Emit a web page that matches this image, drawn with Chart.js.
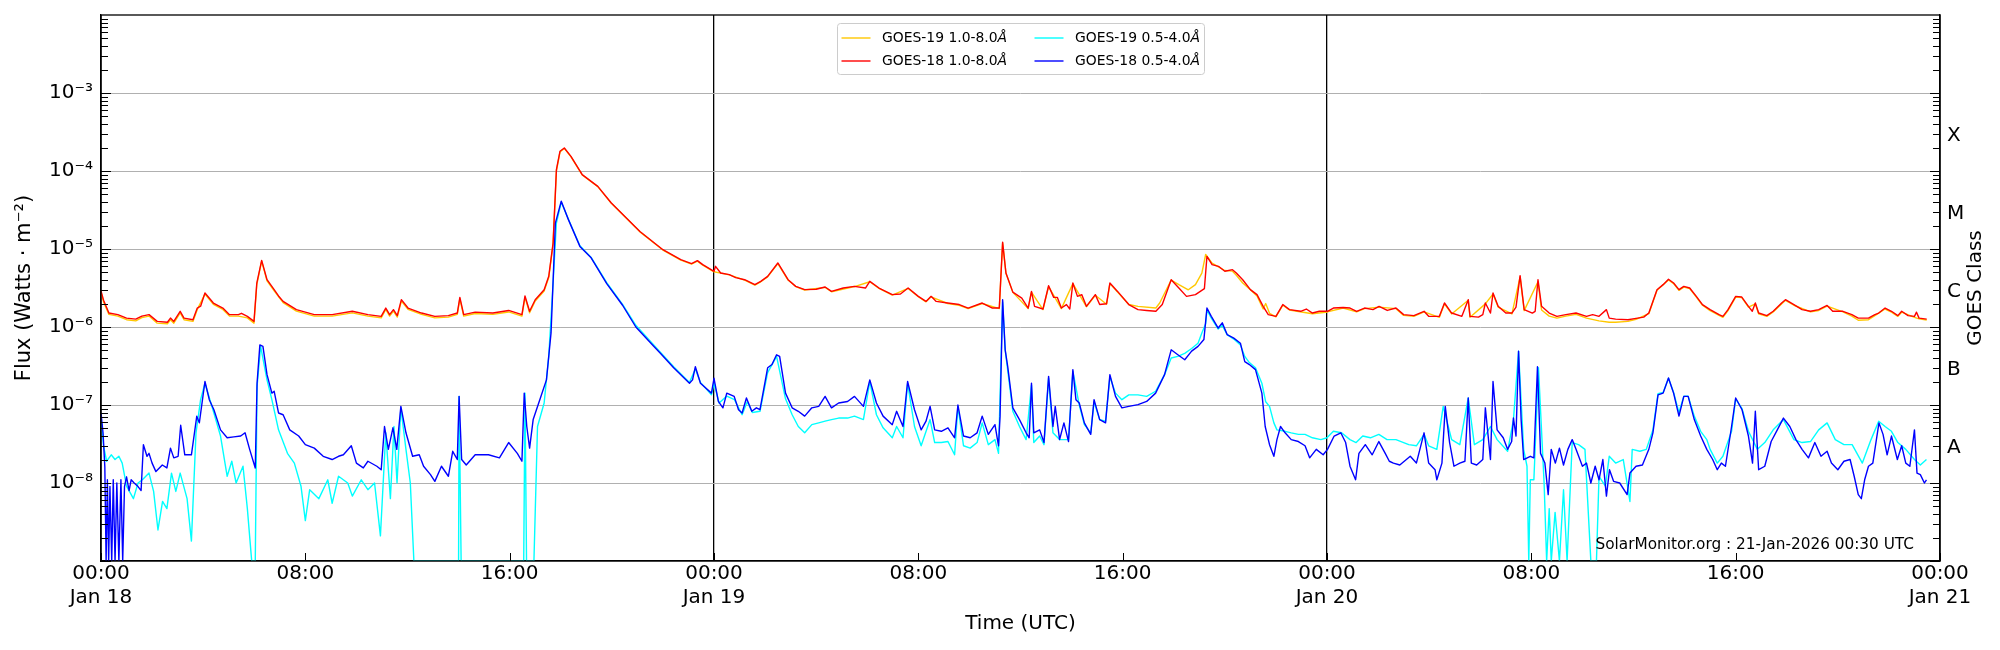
<!DOCTYPE html>
<html lang="en">
<head>
    <meta charset="UTF-8">
    <title>GOES X-ray Flux</title>
    <style>
        body { margin: 0; background: #fff; font-family: "DejaVu Sans", sans-serif; }
        #wrap { width: 2000px; height: 650px; position: relative; }
    </style>
    <script src="https://cdn.jsdelivr.net/npm/chart.js"></script>
</head>
<body>
    <div id="wrap"><canvas id="goesChart"></canvas></div>

    <script>
        // time in hours since Jan 18 00:00 UTC, flux in W/m^2
        const goes19Long = [
            [0.00, 2.8e-6], [0.10, 2.1e-6], [0.31, 1.45e-6], [0.66, 1.38e-6], [1.00, 1.24e-6], [1.36, 1.2e-6],
            [1.60, 1.32e-6], [1.88, 1.38e-6], [2.20, 1.12e-6], [2.60, 1.1e-6], [2.72, 1.24e-6], [2.85, 1.12e-6],
            [3.10, 1.52e-6], [3.25, 1.24e-6], [3.60, 1.18e-6], [3.77, 1.68e-6], [4.07, 2.65e-6], [4.40, 1.95e-6],
            [4.77, 1.68e-6], [5.03, 1.38e-6], [5.38, 1.38e-6], [5.73, 1.31e-6], [5.99, 1.12e-6], [6.10, 3.5e-6],
            [6.29, 7.0e-6], [6.50, 3.9e-6], [6.78, 2.9e-6], [7.13, 2.05e-6], [7.65, 1.6e-6], [8.35, 1.38e-6],
            [9.05, 1.38e-6], [9.84, 1.52e-6], [10.45, 1.38e-6], [10.97, 1.31e-6], [11.15, 1.68e-6], [11.30, 1.38e-6],
            [11.45, 1.6e-6], [11.60, 1.34e-6], [11.76, 2.15e-6], [12.02, 1.68e-6], [12.55, 1.45e-6], [13.07, 1.31e-6],
            [13.60, 1.34e-6], [13.95, 1.45e-6], [14.05, 2.3e-6], [14.20, 1.38e-6], [14.65, 1.49e-6], [15.34, 1.45e-6],
            [15.96, 1.56e-6], [16.48, 1.38e-6], [16.60, 2.4e-6], [16.78, 1.52e-6], [17.00, 2.15e-6], [17.35, 2.9e-6],
            [17.53, 4.3e-6], [17.70, 1.15e-5], [17.83, 1.0e-4], [17.97, 1.75e-4], [18.14, 1.95e-4], [18.40, 1.52e-4],
            [18.84, 8.9e-5], [19.45, 6.3e-5], [19.98, 3.85e-5], [21.10, 1.66e-5], [22.00, 9.7e-6], [22.70, 7.2e-6],
            [23.12, 6.4e-6], [23.35, 7.0e-6], [23.56, 6.2e-6], [24.00, 5.1e-6], [24.26, 4.9e-6], [24.60, 4.65e-6],
            [25.20, 4.0e-6], [25.60, 3.45e-6], [25.83, 3.8e-6], [26.10, 4.4e-6], [26.50, 6.5e-6], [26.90, 4.0e-6],
            [27.20, 3.3e-6], [27.55, 2.98e-6], [28.35, 3.22e-6], [28.60, 2.83e-6], [29.50, 3.3e-6], [30.10, 3.8e-6],
            [30.46, 3.12e-6], [30.98, 2.57e-6], [31.60, 3.12e-6], [32.00, 2.44e-6], [32.30, 2.1e-6], [32.50, 2.44e-6],
            [33.15, 2.0e-6], [33.60, 1.9e-6], [33.95, 1.72e-6], [34.50, 2.0e-6], [35.17, 1.72e-6], [35.30, 1.2e-5],
            [35.43, 4.9e-6], [35.70, 2.78e-6], [36.30, 1.72e-6], [36.43, 2.8e-6], [36.88, 1.67e-6], [37.10, 3.3e-6],
            [37.60, 1.72e-6], [38.05, 3.6e-6], [38.58, 1.82e-6], [38.93, 2.55e-6], [39.37, 1.96e-6], [39.50, 3.6e-6],
            [39.80, 2.8e-6], [40.24, 1.94e-6], [40.60, 1.84e-6], [41.30, 1.75e-6], [41.45, 2.03e-6], [41.90, 4.0e-6],
            [42.20, 3.5e-6], [42.57, 3.0e-6], [42.85, 3.5e-6], [43.10, 4.9e-6], [43.25, 8.5e-6], [43.50, 6.6e-6],
            [43.75, 5.9e-6], [44.00, 5.3e-6], [44.30, 5.2e-6], [44.45, 4.6e-6], [44.70, 3.66e-6], [45.00, 3.0e-6],
            [45.26, 2.5e-6], [45.50, 1.7e-6], [45.60, 2.0e-6], [45.75, 1.5e-6], [46.00, 1.35e-6], [46.27, 1.9e-6],
            [46.53, 1.65e-6], [47.00, 1.56e-6], [47.43, 1.48e-6], [48.02, 1.56e-6], [48.63, 1.75e-6], [49.16, 1.56e-6],
            [49.47, 1.72e-6], [50.04, 1.8e-6], [50.70, 1.72e-6], [51.00, 1.41e-6], [51.40, 1.37e-6], [51.80, 1.56e-6],
            [52.40, 1.33e-6], [52.60, 1.98e-6], [52.88, 1.47e-6], [53.53, 2.2e-6], [53.60, 1.33e-6], [54.20, 1.98e-6],
            [54.50, 2.65e-6], [54.70, 1.8e-6], [55.24, 1.47e-6], [55.56, 4.4e-6], [55.72, 1.62e-6], [56.26, 3.8e-6],
            [56.40, 1.65e-6], [56.70, 1.38e-6], [57.00, 1.3e-6], [57.35, 1.38e-6], [57.75, 1.45e-6], [58.16, 1.3e-6],
            [58.65, 1.2e-6], [59.05, 1.15e-6], [59.30, 1.15e-6], [59.78, 1.18e-6], [60.10, 1.25e-6], [60.60, 1.48e-6],
            [60.92, 2.95e-6], [61.37, 4.0e-6], [61.57, 3.6e-6], [61.78, 2.95e-6], [61.97, 3.25e-6], [62.20, 3.1e-6],
            [62.46, 2.42e-6], [62.70, 1.9e-6], [63.00, 1.62e-6], [63.50, 1.33e-6], [63.70, 1.62e-6], [64.00, 2.42e-6],
            [64.24, 2.38e-6], [64.50, 1.8e-6], [64.77, 1.98e-6], [64.90, 1.47e-6], [65.22, 1.37e-6], [65.47, 1.56e-6],
            [65.95, 2.2e-6], [66.28, 1.9e-6], [66.93, 1.56e-6], [67.25, 1.63e-6], [67.58, 1.85e-6], [68.20, 1.56e-6],
            [68.55, 1.38e-6], [68.80, 1.22e-6], [69.20, 1.24e-6], [69.45, 1.4e-6], [69.85, 1.7e-6], [70.10, 1.55e-6],
            [70.35, 1.37e-6], [70.50, 1.55e-6], [71.00, 1.33e-6], [71.18, 1.27e-6], [71.48, 1.23e-6]
        ];

        const goes18Long = [
            [0.00, 2.9e-6], [0.10, 2.2e-6], [0.31, 1.51e-6], [0.66, 1.44e-6], [1.00, 1.30e-6], [1.36, 1.26e-6],
            [1.60, 1.38e-6], [1.88, 1.44e-6], [2.20, 1.18e-6], [2.60, 1.15e-6], [2.72, 1.30e-6], [2.85, 1.18e-6],
            [3.10, 1.59e-6], [3.25, 1.30e-6], [3.60, 1.24e-6], [3.77, 1.75e-6], [3.90, 1.85e-6], [4.07, 2.73e-6],
            [4.40, 2.03e-6], [4.77, 1.75e-6], [5.03, 1.44e-6], [5.38, 1.44e-6], [5.50, 1.5e-6], [5.73, 1.37e-6],
            [5.99, 1.18e-6], [6.10, 3.66e-6], [6.29, 7.15e-6], [6.50, 4.04e-6], [6.78, 3.01e-6], [6.95, 2.5e-6],
            [7.13, 2.13e-6], [7.65, 1.67e-6], [8.35, 1.44e-6], [9.05, 1.44e-6], [9.84, 1.59e-6], [10.45, 1.44e-6],
            [10.97, 1.37e-6], [11.15, 1.75e-6], [11.30, 1.44e-6], [11.45, 1.67e-6], [11.60, 1.4e-6], [11.76, 2.24e-6],
            [12.02, 1.75e-6], [12.55, 1.51e-6], [13.07, 1.37e-6], [13.60, 1.40e-6], [13.95, 1.51e-6], [14.05, 2.4e-6],
            [14.20, 1.44e-6], [14.65, 1.55e-6], [15.34, 1.51e-6], [15.96, 1.63e-6], [16.48, 1.44e-6], [16.60, 2.5e-6],
            [16.78, 1.59e-6], [17.00, 2.24e-6], [17.35, 3.01e-6], [17.53, 4.46e-6], [17.70, 1.19e-5], [17.83, 1.04e-4],
            [17.97, 1.79e-4], [18.14, 1.97e-4], [18.40, 1.54e-4], [18.84, 8.97e-5], [19.45, 6.36e-5], [19.98, 3.89e-5],
            [21.10, 1.68e-5], [22.00, 9.8e-6], [22.70, 7.3e-6], [23.12, 6.5e-6], [23.35, 7.1e-6], [23.56, 6.3e-6],
            [24.00, 5.18e-6], [24.06, 6.0e-6], [24.26, 4.93e-6], [24.60, 4.69e-6], [24.85, 4.3e-6], [25.20, 4.04e-6],
            [25.60, 3.49e-6], [25.83, 3.85e-6], [26.10, 4.46e-6], [26.50, 6.62e-6], [26.90, 4.04e-6], [27.20, 3.32e-6],
            [27.55, 3.01e-6], [28.00, 3.05e-6], [28.35, 3.26e-6], [28.60, 2.86e-6], [29.06, 3.16e-6], [29.50, 3.32e-6],
            [29.93, 3.16e-6], [30.10, 3.85e-6], [30.46, 3.16e-6], [30.98, 2.6e-6], [31.30, 2.65e-6], [31.60, 3.16e-6],
            [32.00, 2.47e-6], [32.30, 2.13e-6], [32.50, 2.47e-6], [32.70, 2.13e-6], [33.15, 2.03e-6], [33.60, 1.94e-6],
            [33.95, 1.75e-6], [34.50, 2.03e-6], [34.90, 1.75e-6], [35.17, 1.75e-6], [35.30, 1.22e-5], [35.43, 4.93e-6],
            [35.70, 2.8e-6], [36.05, 2.35e-6], [36.30, 1.75e-6], [36.43, 2.86e-6], [36.55, 1.84e-6], [36.88, 1.7e-6],
            [37.10, 3.38e-6], [37.30, 2.4e-6], [37.44, 2.4e-6], [37.60, 1.75e-6], [37.80, 1.94e-6], [37.93, 1.7e-6],
            [38.05, 3.66e-6], [38.23, 2.47e-6], [38.40, 2.6e-6], [38.58, 1.84e-6], [38.93, 2.6e-6], [39.10, 1.94e-6],
            [39.37, 1.99e-6], [39.50, 3.66e-6], [39.80, 2.86e-6], [40.24, 1.94e-6], [40.60, 1.67e-6], [40.94, 1.63e-6],
            [41.30, 1.59e-6], [41.55, 1.94e-6], [41.90, 4.04e-6], [42.20, 3.16e-6], [42.50, 2.47e-6], [42.85, 2.6e-6],
            [43.20, 3.1e-6], [43.30, 8.05e-6], [43.50, 6.3e-6], [43.75, 6.0e-6], [44.00, 5.18e-6], [44.30, 5.43e-6],
            [44.45, 4.93e-6], [44.70, 4.04e-6], [45.00, 3.01e-6], [45.26, 2.6e-6], [45.50, 1.84e-6], [45.70, 1.44e-6],
            [46.00, 1.37e-6], [46.27, 1.94e-6], [46.53, 1.67e-6], [46.97, 1.59e-6], [47.19, 1.7e-6], [47.43, 1.51e-6],
            [47.70, 1.59e-6], [48.02, 1.59e-6], [48.25, 1.75e-6], [48.63, 1.78e-6], [48.90, 1.75e-6], [49.16, 1.59e-6],
            [49.47, 1.75e-6], [49.80, 1.67e-6], [50.04, 1.84e-6], [50.36, 1.63e-6], [50.70, 1.75e-6], [51.00, 1.44e-6],
            [51.40, 1.40e-6], [51.80, 1.59e-6], [51.98, 1.37e-6], [52.40, 1.37e-6], [52.60, 2.03e-6], [52.88, 1.51e-6],
            [53.28, 1.37e-6], [53.53, 2.24e-6], [53.60, 1.37e-6], [53.93, 1.34e-6], [54.10, 1.44e-6], [54.20, 2.03e-6],
            [54.40, 1.51e-6], [54.50, 2.73e-6], [54.70, 1.84e-6], [55.00, 1.51e-6], [55.24, 1.51e-6], [55.40, 1.8e-6],
            [55.56, 4.55e-6], [55.72, 1.67e-6], [56.04, 1.51e-6], [56.15, 1.59e-6], [56.26, 4.04e-6], [56.40, 1.84e-6],
            [56.70, 1.51e-6], [57.00, 1.37e-6], [57.35, 1.44e-6], [57.75, 1.51e-6], [58.16, 1.37e-6], [58.40, 1.44e-6],
            [58.65, 1.37e-6], [58.94, 1.67e-6], [59.05, 1.30e-6], [59.30, 1.26e-6], [59.78, 1.24e-6], [60.10, 1.29e-6],
            [60.40, 1.34e-6], [60.60, 1.51e-6], [60.92, 3.01e-6], [61.16, 3.49e-6], [61.37, 4.1e-6], [61.57, 3.66e-6],
            [61.78, 3.01e-6], [61.97, 3.32e-6], [62.20, 3.16e-6], [62.46, 2.47e-6], [62.70, 1.94e-6], [63.00, 1.67e-6],
            [63.35, 1.44e-6], [63.50, 1.37e-6], [63.70, 1.67e-6], [64.00, 2.47e-6], [64.24, 2.42e-6], [64.50, 1.84e-6],
            [64.65, 1.59e-6], [64.77, 2.03e-6], [64.90, 1.51e-6], [65.22, 1.40e-6], [65.47, 1.59e-6], [65.80, 2.03e-6],
            [65.95, 2.24e-6], [66.28, 1.94e-6], [66.60, 1.67e-6], [66.93, 1.59e-6], [67.25, 1.67e-6], [67.58, 1.89e-6],
            [67.80, 1.59e-6], [68.20, 1.59e-6], [68.55, 1.44e-6], [68.80, 1.30e-6], [69.20, 1.30e-6], [69.45, 1.44e-6],
            [69.60, 1.51e-6], [69.85, 1.75e-6], [70.10, 1.59e-6], [70.35, 1.40e-6], [70.50, 1.59e-6], [70.75, 1.40e-6],
            [71.00, 1.37e-6], [71.08, 1.55e-6], [71.18, 1.30e-6], [71.48, 1.26e-6]
        ];

        const goes19Short = [
            [0.00, 7.0e-8], [0.10, 3.0e-8], [0.22, 1.9e-8], [0.40, 2.3e-8], [0.55, 2.0e-8], [0.70, 2.2e-8],
            [0.83, 1.8e-8], [1.00, 9.1e-9], [1.27, 6.3e-9], [1.45, 1.0e-8], [1.62, 1.1e-8], [1.88, 1.34e-8],
            [2.06, 7.8e-9], [2.23, 2.5e-9], [2.41, 5.8e-9], [2.58, 4.7e-9], [2.76, 1.34e-8], [2.93, 7.8e-9],
            [3.10, 1.34e-8], [3.37, 6.3e-9], [3.54, 1.8e-9], [3.72, 4.4e-8], [3.90, 1.17e-7], [4.07, 1.9e-7],
            [4.42, 7.9e-8], [4.68, 4.0e-8], [4.94, 1.22e-8], [5.12, 1.9e-8], [5.29, 1.0e-8], [5.56, 1.64e-8],
            [5.73, 4.7e-9], [5.90, 1e-9], [6.04, 1e-9], [6.11, 1.73e-7], [6.25, 5.65e-7], [6.50, 2.1e-7],
            [6.69, 1.17e-7], [6.95, 4.8e-8], [7.30, 2.4e-8], [7.57, 1.8e-8], [7.83, 9.1e-9], [8.00, 3.3e-9],
            [8.17, 8.2e-9], [8.53, 6.3e-9], [8.88, 1.1e-8], [9.05, 5.5e-9], [9.30, 1.22e-8], [9.66, 1.0e-8],
            [9.84, 6.8e-9], [10.19, 1.1e-8], [10.45, 8.2e-9], [10.71, 1.0e-8], [10.94, 2.1e-9], [11.15, 4.4e-8],
            [11.33, 6.3e-9], [11.47, 5.3e-8], [11.59, 1.0e-8], [11.74, 9.2e-8], [11.94, 2.7e-8], [12.11, 1.0e-8],
            [12.25, 1e-9], [14.00, 1e-9], [14.02, 1.29e-7], [14.10, 1e-9], [16.55, 1e-9], [16.60, 1.42e-7],
            [16.66, 1e-9], [16.95, 1e-9], [17.09, 5.3e-8], [17.35, 1.06e-7], [17.53, 4.2e-7], [17.70, 3.66e-6],
            [17.83, 2.15e-5], [18.02, 4.0e-5], [18.30, 2.4e-5], [18.75, 1.1e-5], [19.19, 7.8e-6], [19.80, 3.7e-6],
            [20.42, 1.95e-6], [20.94, 1.05e-6], [21.64, 5.9e-7], [22.42, 3.1e-7], [23.04, 1.95e-7], [23.27, 2.9e-7],
            [23.47, 1.95e-7], [23.90, 1.35e-7], [24.00, 1.9e-7], [24.20, 1.06e-7], [24.50, 1.3e-7], [24.80, 1.17e-7],
            [25.10, 7.5e-8], [25.30, 1.1e-7], [25.50, 8.0e-8], [25.80, 8.3e-8], [26.10, 2.6e-7], [26.45, 4.2e-7],
            [26.80, 1.2e-7], [27.06, 7.5e-8], [27.30, 5.3e-8], [27.55, 4.4e-8], [27.83, 5.6e-8], [28.10, 5.9e-8],
            [28.35, 6.2e-8], [28.60, 6.5e-8], [28.88, 6.8e-8], [29.23, 6.8e-8], [29.50, 7.2e-8], [29.85, 6.5e-8],
            [30.10, 2.0e-7], [30.36, 7.5e-8], [30.62, 5.1e-8], [30.98, 3.8e-8], [31.15, 5.3e-8], [31.40, 3.8e-8],
            [31.58, 1.9e-7], [31.85, 5.3e-8], [32.11, 3.0e-8], [32.46, 6.5e-8], [32.64, 3.3e-8], [32.90, 3.3e-8],
            [33.16, 3.4e-8], [33.42, 2.3e-8], [33.55, 9.6e-8], [33.77, 3.0e-8], [34.03, 2.8e-8], [34.30, 3.3e-8],
            [34.50, 5.9e-8], [34.74, 3.1e-8], [35.00, 3.6e-8], [35.14, 2.4e-8], [35.30, 2.1e-6], [35.40, 5.1e-7],
            [35.70, 8.3e-8], [35.96, 5.3e-8], [36.22, 3.6e-8], [36.43, 1.8e-7], [36.52, 3.3e-8], [36.75, 4.0e-8],
            [36.92, 3.1e-8], [37.10, 2.2e-7], [37.27, 4.4e-8], [37.53, 3.6e-8], [37.88, 3.6e-8], [38.05, 2.7e-7],
            [38.30, 1.0e-7], [38.50, 5.6e-8], [38.75, 4.4e-8], [38.88, 1.1e-7], [39.10, 6.5e-8], [39.33, 6.2e-8],
            [39.50, 2.3e-7], [39.72, 1.42e-7], [39.97, 1.17e-7], [40.24, 1.35e-7], [40.60, 1.35e-7], [40.94, 1.29e-7],
            [41.29, 1.5e-7], [41.64, 2.45e-7], [41.90, 4.0e-7], [42.16, 4.2e-7], [42.43, 4.6e-7], [42.70, 5.3e-7],
            [42.95, 6.2e-7], [43.10, 8.4e-7], [43.25, 1.1e-6], [43.30, 1.65e-6], [43.47, 1.3e-6], [43.74, 9.4e-7],
            [43.90, 1.05e-6], [44.09, 8.0e-7], [44.35, 7.0e-7], [44.61, 5.9e-7], [44.78, 4.2e-7], [44.96, 3.5e-7],
            [45.20, 3.0e-7], [45.45, 1.9e-7], [45.60, 1.1e-7], [45.75, 9.6e-8], [45.92, 5.9e-8], [46.04, 4.8e-8],
            [46.36, 4.6e-8], [46.60, 4.4e-8], [46.88, 4.2e-8], [47.14, 4.2e-8], [47.43, 3.8e-8], [47.76, 3.6e-8],
            [48.00, 3.8e-8], [48.25, 4.6e-8], [48.57, 4.4e-8], [48.90, 3.6e-8], [49.14, 3.3e-8], [49.40, 4.0e-8],
            [49.70, 3.8e-8], [50.03, 4.2e-8], [50.35, 3.6e-8], [50.70, 3.6e-8], [51.00, 3.3e-8], [51.20, 3.1e-8],
            [51.50, 3.0e-8], [51.80, 4.2e-8], [51.98, 3.0e-8], [52.30, 2.7e-8], [52.55, 9.6e-8], [52.88, 3.6e-8],
            [53.20, 3.1e-8], [53.53, 1.23e-7], [53.77, 3.1e-8], [54.10, 3.6e-8], [54.40, 5.3e-8], [54.66, 3.6e-8],
            [55.07, 2.55e-8], [55.30, 6.5e-8], [55.50, 4.9e-7], [55.70, 2.7e-8], [55.83, 1.64e-8], [55.90, 1e-9],
            [55.96, 1.1e-8], [56.10, 1.1e-8], [56.28, 3.0e-7], [56.50, 1.0e-8], [56.60, 1e-9], [56.70, 4.7e-9],
            [56.78, 1e-9], [56.93, 4.2e-9], [57.10, 1e-9], [57.26, 8.2e-9], [57.40, 1e-9], [57.60, 3.3e-8],
            [57.85, 3.1e-8], [58.10, 2.7e-8], [58.33, 1e-9], [58.55, 1e-9], [58.65, 1.22e-8], [58.90, 9.1e-9],
            [59.05, 2.2e-8], [59.30, 1.8e-8], [59.60, 2.0e-8], [59.86, 5.8e-9], [59.95, 2.7e-8], [60.25, 2.55e-8],
            [60.50, 2.7e-8], [60.76, 4.8e-8], [60.96, 1.4e-7], [61.16, 1.45e-7], [61.37, 2.2e-7], [61.57, 1.45e-7],
            [61.78, 8.0e-8], [61.97, 1.3e-7], [62.14, 1.3e-7], [62.38, 7.2e-8], [62.63, 4.6e-8], [62.87, 3.6e-8],
            [63.00, 2.7e-8], [63.28, 1.8e-8], [63.50, 2.2e-8], [63.84, 4.6e-8], [64.00, 1.2e-7], [64.25, 9.0e-8],
            [64.50, 4.6e-8], [64.85, 2.7e-8], [65.14, 3.3e-8], [65.47, 4.8e-8], [65.87, 6.5e-8], [66.28, 3.6e-8],
            [66.60, 3.3e-8], [66.93, 3.4e-8], [67.25, 4.8e-8], [67.58, 5.9e-8], [67.90, 3.6e-8], [68.24, 3.1e-8],
            [68.56, 3.1e-8], [68.96, 1.8e-8], [69.30, 3.6e-8], [69.60, 6.2e-8], [69.85, 5.3e-8], [70.10, 4.6e-8],
            [70.35, 3.3e-8], [70.66, 2.7e-8], [71.00, 2.0e-8], [71.23, 1.7e-8], [71.47, 2.0e-8]
        ];

        const goes18Short = [
            [0.00, 7.9e-8], [0.08, 4.4e-8], [0.15, 1.6e-8], [0.20, 1e-9], [0.25, 1.1e-8], [0.30, 1e-9],
            [0.35, 9e-9], [0.42, 1e-9], [0.48, 1.1e-8], [0.55, 1e-9], [0.62, 1.0e-8], [0.70, 1e-9],
            [0.78, 1.1e-8], [0.85, 1e-9], [0.92, 9e-9], [1.00, 1.2e-8], [1.10, 8e-9], [1.18, 1.1e-8],
            [1.30, 1.0e-8], [1.45, 9e-9], [1.57, 8e-9], [1.66, 3.1e-8], [1.80, 2.2e-8], [1.88, 2.4e-8],
            [2.00, 1.8e-8], [2.15, 1.4e-8], [2.40, 1.7e-8], [2.58, 1.56e-8], [2.72, 2.8e-8], [2.85, 2.1e-8],
            [3.02, 2.2e-8], [3.12, 5.5e-8], [3.28, 2.3e-8], [3.54, 2.3e-8], [3.75, 7.2e-8], [3.85, 5.9e-8],
            [4.07, 2.0e-7], [4.24, 1.17e-7], [4.42, 8.7e-8], [4.68, 4.8e-8], [4.94, 3.8e-8], [5.20, 3.9e-8],
            [5.47, 4.0e-8], [5.64, 4.4e-8], [5.82, 2.7e-8], [6.04, 1.56e-8], [6.11, 1.9e-7], [6.22, 5.9e-7],
            [6.34, 5.65e-7], [6.50, 2.45e-7], [6.69, 1.42e-7], [6.78, 1.5e-7], [6.95, 7.9e-8], [7.13, 7.5e-8],
            [7.39, 4.8e-8], [7.74, 4.0e-8], [8.00, 3.1e-8], [8.35, 2.8e-8], [8.70, 2.2e-8], [9.05, 2.0e-8],
            [9.30, 2.2e-8], [9.49, 2.3e-8], [9.80, 3.0e-8], [10.00, 1.8e-8], [10.27, 1.56e-8], [10.45, 1.9e-8],
            [10.80, 1.64e-8], [10.97, 1.48e-8], [11.10, 5.3e-8], [11.25, 2.7e-8], [11.43, 5.1e-8], [11.58, 2.7e-8],
            [11.74, 9.6e-8], [11.94, 4.4e-8], [12.20, 2.2e-8], [12.46, 2.3e-8], [12.63, 1.64e-8], [12.90, 1.28e-8],
            [13.07, 1.05e-8], [13.33, 1.64e-8], [13.60, 1.22e-8], [13.77, 2.55e-8], [13.95, 2.0e-8], [14.02, 1.29e-7],
            [14.12, 2.0e-8], [14.30, 1.7e-8], [14.65, 2.3e-8], [15.17, 2.3e-8], [15.60, 2.1e-8], [15.96, 3.3e-8],
            [16.30, 2.4e-8], [16.48, 1.9e-8], [16.57, 1.42e-7], [16.67, 5.3e-8], [16.78, 2.8e-8], [16.92, 6.5e-8],
            [17.18, 1.17e-7], [17.44, 2.1e-7], [17.62, 8.4e-7], [17.79, 2.15e-5], [18.02, 4.09e-5], [18.30, 2.38e-5],
            [18.75, 1.08e-5], [19.19, 7.7e-6], [19.80, 3.6e-6], [20.42, 1.9e-6], [20.94, 1.0e-6], [21.64, 5.65e-7],
            [21.90, 4.6e-7], [22.42, 3.0e-7], [23.04, 1.9e-7], [23.16, 2.1e-7], [23.27, 3.1e-7], [23.47, 1.9e-7],
            [23.90, 1.42e-7], [24.00, 2.2e-7], [24.17, 1.11e-7], [24.35, 9.2e-8], [24.50, 1.42e-7], [24.79, 1.29e-7],
            [24.96, 8.7e-8], [25.10, 7.9e-8], [25.27, 1.23e-7], [25.48, 8.3e-8], [25.66, 9.2e-8], [25.80, 8.7e-8],
            [26.10, 3.0e-7], [26.27, 3.3e-7], [26.45, 4.4e-7], [26.57, 4.2e-7], [26.80, 1.42e-7], [27.06, 9.2e-8],
            [27.30, 8.3e-8], [27.55, 7.2e-8], [27.83, 9.2e-8], [28.10, 9.6e-8], [28.35, 1.29e-7], [28.60, 9.2e-8],
            [28.88, 1.06e-7], [29.23, 1.11e-7], [29.50, 1.29e-7], [29.85, 9.6e-8], [30.10, 2.1e-7], [30.36, 1.06e-7],
            [30.62, 7.2e-8], [30.98, 5.6e-8], [31.15, 8.3e-8], [31.40, 5.3e-8], [31.58, 2.0e-7], [31.85, 8.7e-8],
            [32.11, 4.8e-8], [32.30, 6.2e-8], [32.46, 9.6e-8], [32.64, 4.8e-8], [32.90, 4.6e-8], [33.16, 5.1e-8],
            [33.42, 3.8e-8], [33.55, 1.0e-7], [33.77, 4.0e-8], [34.03, 3.8e-8], [34.30, 4.4e-8], [34.50, 7.2e-8],
            [34.74, 4.2e-8], [35.00, 5.6e-8], [35.14, 3.0e-8], [35.20, 7.2e-8], [35.30, 2.24e-6], [35.40, 5.1e-7],
            [35.50, 3.1e-7], [35.70, 9.2e-8], [35.96, 6.5e-8], [36.22, 4.4e-8], [36.34, 3.8e-8], [36.43, 1.9e-7],
            [36.52, 4.4e-8], [36.75, 4.8e-8], [36.92, 3.3e-8], [37.10, 2.33e-7], [37.27, 5.3e-8], [37.36, 9.6e-8],
            [37.53, 3.6e-8], [37.70, 5.9e-8], [37.88, 3.4e-8], [38.05, 2.84e-7], [38.17, 1.17e-7], [38.30, 1.06e-7],
            [38.50, 5.9e-8], [38.75, 4.2e-8], [38.88, 1.17e-7], [39.10, 6.5e-8], [39.33, 5.9e-8], [39.50, 2.45e-7],
            [39.72, 1.29e-7], [39.97, 9.2e-8], [40.24, 9.6e-8], [40.60, 1.01e-7], [40.94, 1.11e-7], [41.29, 1.42e-7],
            [41.64, 2.45e-7], [41.90, 5.1e-7], [42.16, 4.4e-7], [42.43, 3.8e-7], [42.70, 4.9e-7], [42.95, 5.65e-7],
            [43.18, 6.9e-7], [43.30, 1.75e-6], [43.47, 1.37e-6], [43.74, 9.7e-7], [43.90, 1.13e-6], [44.09, 8.0e-7],
            [44.35, 7.2e-7], [44.61, 6.2e-7], [44.78, 3.6e-7], [44.96, 3.3e-7], [45.20, 2.84e-7], [45.45, 1.42e-7],
            [45.58, 5.3e-8], [45.75, 3.1e-8], [45.92, 2.2e-8], [46.04, 3.6e-8], [46.18, 5.3e-8], [46.36, 4.4e-8],
            [46.60, 3.6e-8], [46.88, 3.4e-8], [47.14, 3.0e-8], [47.32, 2.1e-8], [47.58, 2.7e-8], [47.85, 2.3e-8],
            [48.02, 2.7e-8], [48.28, 4.0e-8], [48.54, 4.4e-8], [48.73, 3.3e-8], [48.90, 1.64e-8], [49.12, 1.1e-8],
            [49.25, 2.4e-8], [49.50, 3.1e-8], [49.77, 2.3e-8], [50.03, 3.4e-8], [50.28, 2.4e-8], [50.44, 1.9e-8],
            [50.60, 1.8e-8], [50.85, 1.7e-8], [51.26, 2.2e-8], [51.50, 1.8e-8], [51.80, 4.4e-8], [51.98, 1.8e-8],
            [52.23, 1.48e-8], [52.30, 1.1e-8], [52.50, 1.8e-8], [52.63, 9.6e-8], [52.80, 3.3e-8], [52.97, 1.64e-8],
            [53.20, 1.8e-8], [53.40, 1.9e-8], [53.53, 1.23e-7], [53.65, 1.8e-8], [53.86, 1.7e-8], [54.10, 2.0e-8],
            [54.20, 9.2e-8], [54.40, 2.0e-8], [54.50, 2.0e-7], [54.66, 4.8e-8], [54.90, 3.8e-8], [55.07, 2.7e-8],
            [55.23, 3.4e-8], [55.30, 6.8e-8], [55.40, 4.0e-8], [55.50, 4.9e-7], [55.60, 6.5e-8], [55.70, 2.0e-8],
            [55.96, 2.2e-8], [56.10, 2.1e-8], [56.24, 3.1e-7], [56.36, 2.4e-8], [56.53, 1.8e-8], [56.66, 7.1e-9],
            [56.78, 2.7e-8], [56.94, 1.8e-8], [57.10, 2.8e-8], [57.26, 1.7e-8], [57.43, 2.7e-8], [57.60, 3.6e-8],
            [57.75, 2.7e-8], [58.00, 1.64e-8], [58.16, 1.8e-8], [58.33, 1.0e-8], [58.50, 1.64e-8], [58.65, 1.1e-8],
            [58.80, 2.0e-8], [58.94, 6.8e-9], [59.06, 1.48e-8], [59.22, 1.05e-8], [59.46, 1.0e-8], [59.75, 7.1e-9],
            [59.86, 1.34e-8], [60.10, 1.64e-8], [60.35, 1.7e-8], [60.60, 2.7e-8], [60.76, 4.4e-8], [60.96, 1.35e-7],
            [61.16, 1.42e-7], [61.37, 2.22e-7], [61.57, 1.42e-7], [61.78, 7.2e-8], [61.97, 1.29e-7], [62.14, 1.29e-7],
            [62.38, 6.5e-8], [62.63, 4.0e-8], [62.87, 2.7e-8], [63.10, 2.0e-8], [63.28, 1.48e-8], [63.44, 1.8e-8],
            [63.60, 1.64e-8], [63.84, 5.3e-8], [64.00, 1.23e-7], [64.25, 8.7e-8], [64.50, 4.0e-8], [64.66, 1.8e-8],
            [64.77, 8.3e-8], [64.90, 1.48e-8], [65.14, 1.64e-8], [65.39, 3.4e-8], [65.63, 4.8e-8], [65.87, 6.8e-8],
            [66.12, 5.3e-8], [66.36, 3.6e-8], [66.60, 2.7e-8], [66.85, 2.1e-8], [67.10, 3.3e-8], [67.34, 2.2e-8],
            [67.58, 2.55e-8], [67.75, 1.8e-8], [68.00, 1.48e-8], [68.24, 1.9e-8], [68.48, 2.0e-8], [68.64, 1.22e-8],
            [68.80, 7.1e-9], [68.92, 6.3e-9], [69.05, 1.1e-8], [69.20, 1.64e-8], [69.37, 1.8e-8], [69.61, 5.9e-8],
            [69.77, 4.2e-8], [69.93, 2.3e-8], [70.10, 4.0e-8], [70.33, 2.0e-8], [70.50, 3.0e-8], [70.66, 1.8e-8],
            [70.82, 1.64e-8], [71.00, 4.8e-8], [71.10, 1.34e-8], [71.23, 1.28e-8], [71.39, 1.0e-8], [71.47, 1.1e-8]
        ];

        const seriesLabels = ['GOES-19 1.0-8.0Å', 'GOES-18 1.0-8.0Å', 'GOES-19 0.5-4.0Å', 'GOES-18 0.5-4.0Å'];
        const seriesColors = ['#ffc800', '#ff0000', '#00ffff', '#0000ff'];
        const hourLabels = ['00:00', '08:00', '16:00'];
        const dayLabels = ['Jan 18', 'Jan 19', 'Jan 20', 'Jan 21'];
        const decadeExponents = [-8, -7, -6, -5, -4, -3];
        const decadeLabels = ['10⁻⁸', '10⁻⁷', '10⁻⁶', '10⁻⁵', '10⁻⁴', '10⁻³'];
        const classLetters = ['A', 'B', 'C', 'M', 'X'];
        const classExponents = [-7.5, -6.5, -5.5, -4.5, -3.5];
        const stamp = 'SolarMonitor.org : 21-Jan-2026 00:30 UTC';

        const FONT = '"DejaVu Sans", sans-serif';
        Chart.defaults.font.family = FONT;
        Chart.defaults.color = '#000';

        function toPoints(arr) {
            return arr.map(([h, f]) => ({ x: h, y: f }));
        }

        function lineSet(i, arr) {
            return {
                label: seriesLabels[i],
                data: toPoints(arr),
                borderColor: seriesColors[i],
                borderWidth: 1.4,
                borderJoinStyle: 'round',
                pointRadius: 0,
                tension: 0,
                fill: false
            };
        }

        // fixed axis boxes so the plot frame lands where the original one is
        function fixWidth(w) {
            return s => { s.width = w; s.paddingTop = 0; s.paddingBottom = 0; };
        }

        // minor ticks, x ticks and the frame, drawn over the lines like matplotlib
        const frameTicks = {
            id: 'frameTicks',
            afterDatasetsDraw(chart) {
                const { ctx, chartArea: a, scales } = chart;
                ctx.save();
                ctx.strokeStyle = '#000';
                ctx.lineWidth = 1;
                ctx.beginPath();
                for (let e = -9; e < -2; e++) {
                    for (let m = 1; m <= 9; m++) {
                        const py = Math.round(scales.y.getPixelForValue(m * Math.pow(10, e))) + 0.5;
                        const len = m === 1 ? 10 : 7;
                        ctx.moveTo(a.left, py); ctx.lineTo(a.left + len, py);
                        ctx.moveTo(a.right, py); ctx.lineTo(a.right - len, py);
                    }
                }
                scales.x.ticks.forEach(t => {
                    const px = Math.round(scales.x.getPixelForValue(t.value)) + 0.5;
                    ctx.moveTo(px, a.bottom); ctx.lineTo(px, a.bottom - 8);
                });
                ctx.stroke();
                ctx.lineWidth = 1.3;
                ctx.strokeRect(a.left, a.top, a.right - a.left, a.bottom - a.top);
                ctx.restore();
            }
        };

        // two-column legend box, stamp and right-hand axis title
        const extras = {
            id: 'extras',
            afterDraw(chart) {
                const { ctx, chartArea: a } = chart;
                const w = 367, h = 51;
                const x0 = (a.left + a.right) / 2 - w / 2, y0 = a.top + 8;
                ctx.save();
                ctx.fillStyle = 'rgba(255,255,255,0.8)';
                ctx.strokeStyle = '#cccccc';
                ctx.lineWidth = 1;
                ctx.beginPath();
                ctx.roundRect(x0 + 0.5, y0 + 0.5, w, h, 3);
                ctx.fill();
                ctx.stroke();

                const order = [3, 2, 1, 0];
                ctx.textBaseline = 'middle';
                order.forEach((idx, i) => {
                    const ds = chart.data.datasets[idx];
                    const lx = x0 + 4.5 + Math.floor(i / 2) * 193;
                    const ly = y0 + 15 + (i % 2) * 23;
                    ctx.strokeStyle = ds.borderColor;
                    ctx.lineWidth = 1.4;
                    ctx.beginPath();
                    ctx.moveTo(lx, ly); ctx.lineTo(lx + 29, ly);
                    ctx.stroke();
                    const main = ds.label.slice(0, -1);
                    ctx.fillStyle = '#000';
                    ctx.font = '13.9px ' + FONT;
                    ctx.textAlign = 'left';
                    ctx.fillText(main, lx + 40.5, ly);
                    const mw = ctx.measureText(main).width;
                    ctx.font = 'italic 13.9px ' + FONT;
                    ctx.fillText(ds.label.slice(-1), lx + 40.5 + mw, ly);
                });

                ctx.font = '15.3px ' + FONT;
                ctx.textAlign = 'right';
                ctx.textBaseline = 'alphabetic';
                ctx.fillText(stamp, a.right - 26, a.bottom - 12);

                ctx.translate(a.right + 36, (a.top + a.bottom) / 2);
                ctx.rotate(-Math.PI / 2);
                ctx.font = '20px ' + FONT;
                ctx.textAlign = 'center';
                ctx.textBaseline = 'middle';
                ctx.fillText('GOES Class', 0, 0);
                ctx.restore();
            }
        };

        const ctx = document.getElementById('goesChart').getContext('2d');
        new Chart(ctx, {
            type: 'line',
            data: {
                datasets: [
                    lineSet(3, goes18Short),
                    lineSet(2, goes19Short),
                    lineSet(1, goes18Long),
                    lineSet(0, goes19Long)
                ]
            },
            options: {
                responsive: true,
                maintainAspectRatio: false,
                devicePixelRatio: 1,
                animation: false,
                layout: { padding: { top: 15, left: 0, right: 0, bottom: 0 } },
                plugins: { legend: { display: false }, tooltip: { enabled: false } },
                scales: {
                    x: {
                        type: 'linear',
                        min: 0,
                        max: 72,
                        afterBuildTicks: s => { s.ticks = Array.from({ length: 10 }, (_, i) => ({ value: i * 8 })); },
                        afterFit: s => { s.height = 89; },
                        grid: {
                            drawTicks: false,
                            lineWidth: 1.3,
                            color: c => (c.tick && c.tick.value % 24 === 0) ? '#000' : 'rgba(0,0,0,0)'
                        },
                        border: { color: '#000', width: 1.3 },
                        ticks: {
                            autoSkip: false,
                            maxRotation: 0,
                            padding: 1,
                            font: { size: 20, lineHeight: 1.2 },
                            callback: v => v % 24 === 0 ? [hourLabels[0], dayLabels[v / 24]] : hourLabels[(v % 24) / 8]
                        },
                        title: { display: true, text: 'Time (UTC)', font: { size: 20, lineHeight: 1.2 }, padding: { top: 0, bottom: 14 } }
                    },
                    y: {
                        type: 'logarithmic',
                        position: 'left',
                        min: 1e-9,
                        max: 1e-2,
                        afterBuildTicks: s => { s.ticks = decadeExponents.map(e => ({ value: Math.pow(10, e) })); },
                        afterFit: fixWidth(101),
                        grid: { drawTicks: false, lineWidth: 1, color: '#b0b0b0' },
                        border: { color: '#000', width: 1.3 },
                        ticks: {
                            autoSkip: false,
                            padding: 8,
                            font: { size: 20 },
                            callback: v => {
                                const k = decadeExponents.indexOf(Math.round(Math.log10(v)));
                                return k >= 0 ? decadeLabels[k] : '';
                            }
                        },
                        title: { display: true, text: 'Flux (Watts · m⁻²)', font: { size: 21, lineHeight: 1.2 }, padding: { top: 12, bottom: 0 } }
                    },
                    y2: {
                        type: 'logarithmic',
                        position: 'right',
                        min: 1e-9,
                        max: 1e-2,
                        afterBuildTicks: s => { s.ticks = classExponents.map(e => ({ value: Math.pow(10, e) })); },
                        afterFit: fixWidth(60),
                        grid: { drawOnChartArea: false, drawTicks: false },
                        border: { color: '#000', width: 1.3 },
                        ticks: {
                            autoSkip: false,
                            padding: 7,
                            labelOffset: 3.5,
                            font: { size: 20 },
                            callback: v => {
                                const k = classExponents.findIndex(e => Math.abs(Math.log10(v) - e) < 0.1);
                                return k >= 0 ? classLetters[k] : '';
                            }
                        }
                    }
                }
            },
            plugins: [frameTicks, extras]
        });
    </script>
</body>
</html>
